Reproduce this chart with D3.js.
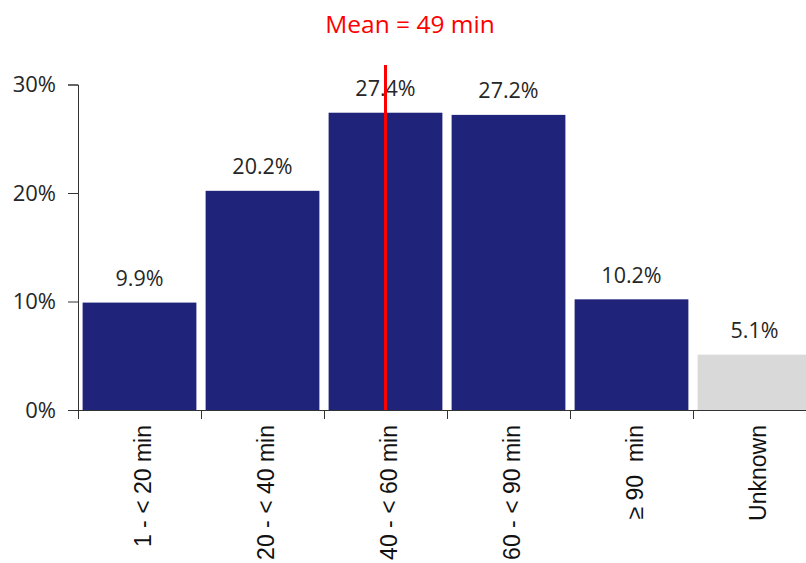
<!DOCTYPE html>
<html>
<head>
<meta charset="utf-8">
<script src="https://cdn.jsdelivr.net/npm/d3@7"></script>
<style>
  html, body { margin: 0; padding: 0; background: #fff; }
  svg { display: block; }
</style>
</head>
<body>
<svg id="chart" width="806" height="563"></svg>
<script>
// Travel time distribution (share of trips, %)
const categories = ["1 - < 20 min", "20 - < 40 min", "40 - < 60 min", "60 - < 90 min", "\u2265 90  min", "Unknown"];
const binStarts = [1, 20, 40, 60, 90, null];
const binEnds = [20, 40, 60, 90, Infinity, null];
const shares = [9.9, 20.2, 27.4, 27.2, 10.2, 5.1];
const barColors = ["#1f237a", "#1f237a", "#1f237a", "#1f237a", "#1f237a", "#d9d9d9"];
const yTicks = [0, 10, 20, 30];
const meanMinutes = 49;

const svg = d3.select("#chart");
const plotLeft = 78, plotRight = 816, plotTop = 84.5, plotBottom = 410;
const uiFont = "'Open Sans', 'Noto Sans', sans-serif";

const x = d3.scaleBand()
  .domain(categories)
  .range([plotLeft, plotRight])
  .paddingInner(0.075)
  .paddingOuter(0.0375);

const y = d3.scaleLinear().domain([0, 30]).range([plotBottom, plotTop]);

const data = categories.map((c, i) => ({ c, v: shares[i], color: barColors[i] }));

// Bars
svg.append("g").selectAll("rect")
  .data(data)
  .join("rect")
  .attr("x", d => x(d.c))
  .attr("y", d => y(d.v))
  .attr("width", x.bandwidth())
  .attr("height", d => y(0) - y(d.v))
  .attr("fill", d => d.color);

// Value labels
svg.append("g").selectAll("text")
  .data(data)
  .join("text")
  .attr("x", d => x(d.c) + x.bandwidth() / 2)
  .attr("y", d => y(d.v) - 16.5)
  .attr("text-anchor", "middle")
  .attr("font-family", uiFont)
  .attr("font-size", 21.5)
  .attr("fill", "#262626")
  .text(d => d.v.toFixed(1) + "%");

// Y axis
const yAxis = svg.append("g")
  .attr("transform", `translate(${plotLeft},0)`)
  .call(d3.axisLeft(y).tickValues(yTicks).tickFormat(d => d + "%").tickSize(10).tickPadding(12));
yAxis.select(".domain").attr("stroke", "#333");
yAxis.selectAll(".tick line").attr("stroke", "#333");
yAxis.selectAll(".tick text")
  .attr("font-family", uiFont)
  .attr("font-size", 22)
  .attr("fill", "#262626");

// X axis: baseline, boundary ticks and rotated labels
const gapHalf = x.step() * x.paddingInner() / 2;
const xg = svg.append("g");
xg.append("line")
  .attr("x1", plotLeft).attr("x2", 806)
  .attr("y1", plotBottom + 0.5).attr("y2", plotBottom + 0.5)
  .attr("stroke", "#333");
xg.selectAll("line.tick")
  .data(categories)
  .join("line")
  .attr("class", "tick")
  .attr("x1", d => Math.round(x(d) - gapHalf) + 0.5)
  .attr("x2", d => Math.round(x(d) - gapHalf) + 0.5)
  .attr("y1", plotBottom)
  .attr("y2", plotBottom + 9)
  .attr("stroke", "#333");
xg.selectAll("text")
  .data(categories)
  .join("text")
  .attr("transform", d => `translate(${x(d) + x.bandwidth() / 2},${plotBottom + 15}) rotate(-90)`)
  .attr("text-anchor", "end")
  .attr("dy", "0.48em")
  .attr("font-family", "'Liberation Sans', Arial, sans-serif")
  .attr("font-size", 23)
  .attr("fill", "#111")
  .style("white-space", "pre")
  .text(d => d);

// Mean marker, placed at the centre of the bin that holds the mean
const meanIdx = binStarts.findIndex((s, i) => s !== null && meanMinutes >= s && meanMinutes < binEnds[i]);
const meanX = x(categories[meanIdx]) + x.bandwidth() / 2;
svg.append("line")
  .attr("x1", meanX).attr("x2", meanX)
  .attr("y1", 65).attr("y2", plotBottom)
  .attr("stroke", "#ff0000")
  .attr("stroke-width", 3);

svg.append("text")
  .attr("x", 410)
  .attr("y", 33)
  .attr("text-anchor", "middle")
  .attr("font-family", uiFont)
  .attr("font-size", 24.5)
  .attr("fill", "#ff0000")
  .text(`Mean = ${meanMinutes} min`);
</script>
</body>
</html>
